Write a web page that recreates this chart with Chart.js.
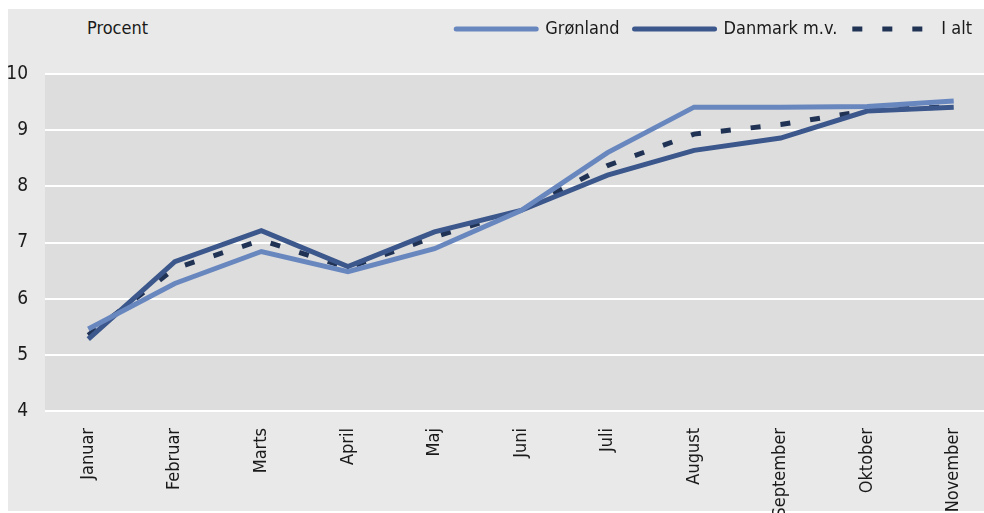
<!DOCTYPE html>
<html>
<head>
<meta charset="utf-8">
<script src="https://cdn.jsdelivr.net/npm/chart.js@4"></script>
<style>
  html, body {
    margin: 0;
    padding: 0;
    background: #ffffff;
    overflow: hidden;
    width: 984px;
    height: 513px;
  }
  #panel {
    position: absolute;
    left: 8px;
    top: 9px;
    width: 990px;
    height: 502px;
    background: #e9e9e9;
  }
  #wrap {
    position: absolute;
    left: 8px;
    top: 9px;
    width: 989px;
    height: 504px;
  }
  #unit {
    position: absolute;
    left: 87px;
    top: 17px;
    font: 18px "DejaVu Sans Condensed", sans-serif;
    color: #1a1a1a;
  }
</style>
</head>
<body>
<div id="panel"></div>
<div id="unit">Procent</div>
<div id="wrap"><canvas id="chart"></canvas></div>

<script>
const months = [
  "Januar", "Februar", "Marts", "April", "Maj", "Juni",
  "Juli", "August", "September", "Oktober", "November"
]

const gronland = [5.46, 6.27, 6.84, 6.48, 6.89, 7.57, 8.60, 9.41, 9.41, 9.42, 9.52]

const danmark = [5.28, 6.66, 7.21, 6.57, 7.19, 7.57, 8.20, 8.64, 8.86, 9.34, 9.41]

const ialt = [5.35, 6.54, 7.04, 6.55, 7.10, 7.57, 8.37, 8.93, 9.10, 9.35, 9.42]

const yTicks = [4, 5, 6, 7, 8, 9, 10]


const FONT = "'DejaVu Sans Condensed', sans-serif"

/* ===== plot background + legend shift ===== */

const plotBg = {
  id: "plotBg",
  beforeDraw(chart) {
    const a = chart.chartArea
    const ctx = chart.ctx
    ctx.save()
    ctx.fillStyle = "#dddddd"
    ctx.fillRect(a.left, a.top, a.right - a.left, a.bottom - a.top)
    ctx.restore()
  },
  afterLayout(chart) {
    chart.legend.right -= 10
    chart.legend.top -= 26
  }
}

new Chart(document.getElementById("chart"), {
  type: "line",
  data: {
    labels: months,
    datasets: [
      {
        label: "Grønland",
        data: gronland,
        borderColor: "#6987bf",
        backgroundColor: "#6987bf",
        borderWidth: 5,
        pointRadius: 0,
        tension: 0
      },
      {
        label: "Danmark m.v.",
        data: danmark,
        borderColor: "#3b578b",
        backgroundColor: "#3b578b",
        borderWidth: 5,
        pointRadius: 0,
        tension: 0
      },
      {
        label: "I alt",
        data: ialt,
        borderColor: "#213355",
        backgroundColor: "#213355",
        borderWidth: 5,
        borderDash: [10, 20],
        pointRadius: 0,
        tension: 0
      }
    ]
  },
  options: {
    responsive: true,
    maintainAspectRatio: false,
    animation: false,
    layout: {
      padding: { top: 22, left: 0, right: 0, bottom: 0 }
    },
    plugins: {
      tooltip: { enabled: false },
      legend: {
        position: "top",
        align: "end",
        labels: {
          usePointStyle: true,
          pointStyle: "line",
          pointStyleWidth: 80,
          boxHeight: 18,
          padding: 15,
          color: "#1a1a1a",
          font: { family: FONT, size: 18 },
          generateLabels(chart) {
            return chart.data.datasets.map((ds, i) => ({
              text: ds.label,
              fillStyle: ds.borderColor,
              strokeStyle: ds.borderColor,
              lineWidth: 5,
              lineDash: ds.borderDash || [],
              lineCap: ds.borderDash ? "butt" : "round",
              pointStyle: "line",
              fontColor: "#1a1a1a",
              hidden: false,
              datasetIndex: i
            }))
          }
        }
      }
    },
    scales: {
      x: {
        offset: true,
        grid: { display: false, drawTicks: false },
        border: { display: false },
        ticks: {
          autoSkip: false,
          minRotation: 90,
          maxRotation: 90,
          padding: 17,
          color: "#1a1a1a",
          font: { family: FONT, size: 18 }
        },
        afterFit(scale) {
          scale.height = 102
        }
      },
      y: {
        min: 4,
        max: 10,
        grid: {
          color: "#ffffff",
          lineWidth: 2,
          drawTicks: false
        },
        border: { display: false },
        afterBuildTicks(scale) {
          scale.ticks = yTicks.map(v => ({ value: v }))
        },
        ticks: {
          padding: 17,
          color: "#1a1a1a",
          font: { family: FONT, size: 19 }
        },
        afterFit(scale) {
          scale.width = 37
        }
      }
    }
  },
  plugins: [plotBg]
})
</script>
</body>
</html>
